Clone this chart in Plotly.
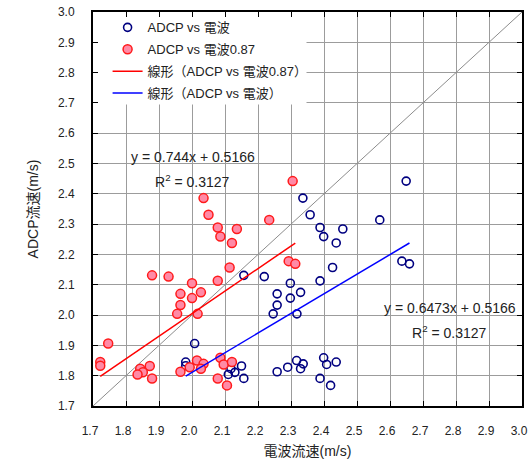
import plotly.graph_objects as go

# ---- data ----
wave_x = [2.649, 2.336, 2.358, 2.388, 2.457, 2.399, 2.437, 2.569, 2.636, 2.659,
          2.426, 2.157, 2.219, 2.298, 2.388, 2.258, 2.329, 2.298, 2.258, 2.246,
          2.318, 2.008, 1.981, 1.981, 2.118, 2.150, 2.130, 2.110, 2.157, 2.258,
          2.290, 2.317, 2.337, 2.329, 2.399, 2.408, 2.437, 2.388, 2.420]
adcp_y = [2.442, 2.386, 2.331, 2.289, 2.284, 2.259, 2.238, 2.314, 2.178, 2.169,
          2.157, 2.131, 2.127, 2.105, 2.113, 2.070, 2.075, 2.056, 2.033, 2.004,
          2.004, 1.906, 1.845, 1.833, 1.823, 1.832, 1.811, 1.804, 1.791, 1.813,
          1.828, 1.850, 1.839, 1.823, 1.859, 1.837, 1.845, 1.791, 1.768]
wave087_x = [2.305, 2.035, 2.050, 2.078, 2.136, 2.086, 2.121, 2.234, 2.293, 2.313,
             2.114, 1.879, 1.929, 2.000, 2.078, 1.965, 2.027, 2.000, 1.965, 1.955,
             2.017, 1.746, 1.722, 1.722, 1.843, 1.872, 1.851, 1.835, 1.879, 1.965,
             1.993, 2.015, 2.035, 2.027, 2.086, 2.096, 2.121, 2.078, 2.106]

fit087_slope, fit087_icpt = 0.744, 0.5166
fit_slope, fit_icpt = 0.6473, 0.5166
r2_text = "0.3127"

axis_min, axis_max = 1.7, 3.0
tick_vals = [1.7, 1.8, 1.9, 2.0, 2.1, 2.2, 2.3, 2.4, 2.5, 2.6, 2.7, 2.8, 2.9, 3.0]
tick_text = ["1.7", "1.8", "1.9", "2.0", "2.1", "2.2", "2.3", "2.4", "2.5",
             "2.6", "2.7", "2.8", "2.9", "3.0"]

FONT = "Liberation Sans, Arial, Noto Sans CJK JP, sans-serif"

fig = go.Figure()

# 1:1 line
fig.add_trace(go.Scatter(x=[axis_min, axis_max], y=[axis_min, axis_max], mode="lines",
                         line=dict(color="#8c8c8c", width=1), showlegend=False,
                         hoverinfo="skip"))

fig.add_trace(go.Scatter(x=wave_x, y=adcp_y, mode="markers", name="ADCP vs 電波",
                         legendgroup="g1",
                         marker=dict(symbol="circle-open", size=8, color="#000080",
                                     line=dict(width=1.6, color="#000080"))))
fig.add_trace(go.Scatter(x=wave087_x, y=adcp_y, mode="markers", name="ADCP vs 電波0.87",
                         legendgroup="g2",
                         marker=dict(symbol="circle", size=9, color="#ff8aa6",
                                     line=dict(width=1.5, color="#ff1a1a"))))

x087 = [min(wave087_x), max(wave087_x)]
fig.add_trace(go.Scatter(x=x087, y=[fit087_slope * v + fit087_icpt for v in x087],
                         mode="lines", name="線形（ADCP vs 電波0.87）", legendgroup="g3",
                         line=dict(color="#ff0000", width=1.5)))
xw = [min(wave_x), max(wave_x)]
fig.add_trace(go.Scatter(x=xw, y=[fit_slope * v + fit_icpt for v in xw],
                         mode="lines", name="線形（ADCP vs 電波）", legendgroup="g4",
                         line=dict(color="#0000ff", width=1.5)))

# white area behind legend (hides gridlines)
fig.add_shape(type="rect", xref="x", yref="y", x0=axis_min, x1=2.347, y0=2.695, y1=axis_max,
              fillcolor="white", line=dict(width=0), layer="between")

ann_font = dict(family=FONT, size=14, color="#222222")
fig.add_annotation(x=2.002, y=2.521, text=f"y = {fit087_slope}x + {fit087_icpt}",
                   showarrow=False, font=ann_font)
fig.add_annotation(x=2.002, y=2.442, text=f"R<sup>2</sup> = {r2_text}",
                   showarrow=False, font=ann_font)
fig.add_annotation(x=2.781, y=2.023, text=f"y = {fit_slope}x + {fit_icpt}",
                   showarrow=False, font=ann_font)
fig.add_annotation(x=2.781, y=1.943, text=f"R<sup>2</sup> = {r2_text}",
                   showarrow=False, font=ann_font)

axis_common = dict(range=[axis_min, axis_max], tickvals=tick_vals, ticktext=tick_text,
                   showgrid=True, gridcolor="#9c9c9c", gridwidth=1,
                   showline=True, linecolor="black", linewidth=2, mirror="allticks",
                   ticks="inside", ticklen=5, tickwidth=1, tickcolor="black",
                   zeroline=False, automargin=False, ticklabeloverflow="allow",
                   tickfont=dict(family=FONT, size=12, color="#222222"))

fig.update_layout(
    width=529, height=459,
    margin=dict(l=93, r=7, t=11.5, b=52.5),
    paper_bgcolor="white", plot_bgcolor="white",
    font=dict(family=FONT, color="#222222"),
    xaxis=dict(**axis_common, ticklabelstandoff=13, ticklabelshift=-3,
               title=dict(text="電波流速(m/s)", font=dict(family=FONT, size=14, color="#222222"),
                          standoff=9)),
    yaxis=dict(**axis_common, ticklabelstandoff=14,
               title=dict(text="ADCP流速(m/s)", font=dict(family=FONT, size=14, color="#222222"),
                          standoff=16)),
    legend=dict(x=0.034, y=0.999, xanchor="left", yanchor="top",
                bgcolor="rgba(0,0,0,0)", borderwidth=0,
                font=dict(family=FONT, size=13, color="#222222"), tracegroupgap=2),
    showlegend=True,
)

fig.write_html("out.html")
